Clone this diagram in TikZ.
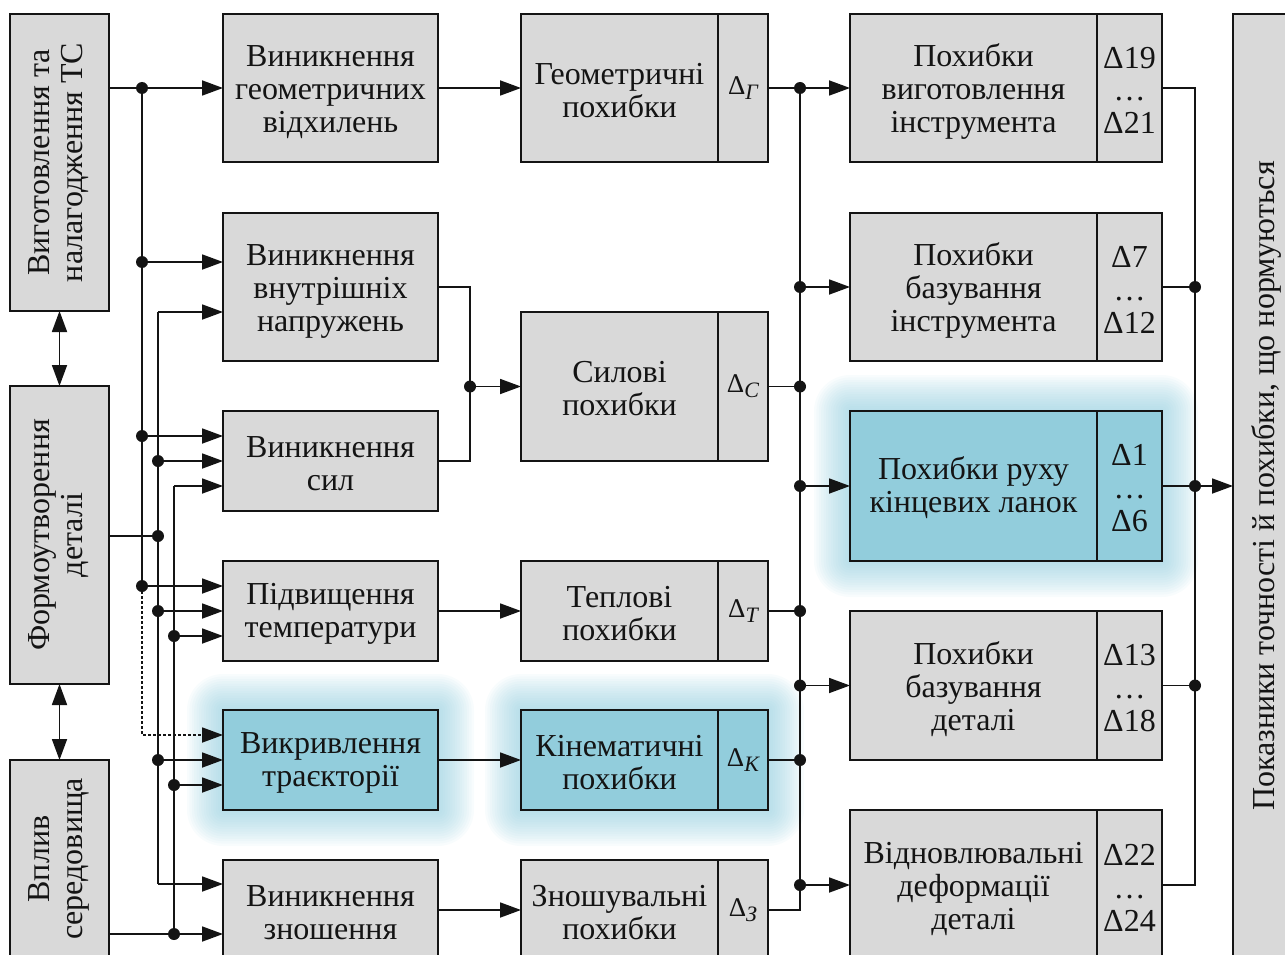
\documentclass[tikz,border=0pt]{standalone}
\usepackage{fontspec}
\usepackage{graphicx}
\setmainfont{Liberation Serif}
\usetikzlibrary{arrows.meta,calc,backgrounds}
\definecolor{boxgray}{RGB}{217,217,217}
\definecolor{boxblue}{RGB}{146,205,220}
\definecolor{glowblue}{RGB}{140,202,220}
\definecolor{ink}{RGB}{20,20,20}
\newcommand\dsub[1]{{\fontsize{27}{27}\selectfont Δ}\raisebox{-5pt}{\fontsize{22}{22}\selectfont\itshape #1}}
\newcommand\rtext[1]{\rotatebox{90}{\begin{tabular}{@{}c@{}}#1\end{tabular}}}
\newcommand\st{\rule{0pt}{30pt}}
\newcommand\sst{\rule{0pt}{26pt}}
\newcommand\glowbox[2]{%
  \foreach \k in {1,...,15}{%
    \pgfmathsetmacro\gr{\k*2.4}%
    \fill[glowblue, opacity=0.06, rounded corners=\gr pt]
      ([shift={(-\gr,-\gr)}]#1) rectangle ([shift={(\gr,\gr)}]#2);
  }}
\tikzset{
  blk/.style={draw=ink, line width=2pt, fill=boxgray, inner sep=0pt, outer sep=0pt,
    anchor=north west, align=center, text=ink, font=\fontsize{32}{33}\selectfont},
  hl/.style={fill=boxblue},
  con/.style={line width=1.8pt, draw=ink},
  arr/.style={con, -{Triangle[length=21pt,width=15pt]}},
  darr/.style={con, {Triangle[length=21pt,width=15pt]}-{Triangle[length=21pt,width=15pt]}},
  dotline/.style={arr, dash pattern=on 2.5pt off 2.5pt},
}
\begin{document}
\begin{tikzpicture}[x=1pt,y=-1pt]
\useasboundingbox (0,0) rectangle (1285,955);
\clip (0,0) rectangle (1285,955);

% left column
\node[blk, minimum width=99, minimum height=297] (l1) at (10,14) {\rtext{Виготовлення та\\налагодження ТС}};
\node[blk, minimum width=99, minimum height=298] (l2) at (10,386) {\rtext{Формоутворення\\деталі}};
\node[blk, minimum width=99, minimum height=198] (l3) at (10,760) {\rtext{Вплив\\середовища}};

% second column
\node[blk, minimum width=215, minimum height=148] (b1) at (223,14) {\st Виникнення\\геометричних\\відхилень};
\node[blk, minimum width=215, minimum height=148] (b2) at (223,213) {\st Виникнення\\внутрішніх\\напружень};
\node[blk, minimum width=215, minimum height=100] (b3) at (223,411) {\sst Виникнення\\сил};
\node[blk, minimum width=215, minimum height=100] (b4) at (223,561) {\sst Підвищення\\температури};
\node[blk, hl, minimum width=215, minimum height=100] (b5) at (223,710) {\sst Викривлення\\траєкторії};
\node[blk, minimum width=215, minimum height=100] (b6) at (223,860) {\sst Виникнення\\зношення};

% third column
\node[blk, minimum width=197, minimum height=148] (c1) at (521,14) {\sst Геометричні\\похибки};
\node[blk, minimum width=50, minimum height=148] (c1d) at (718,14) {\dsub{Γ}};
\node[blk, minimum width=197, minimum height=149] (c2) at (521,312) {\sst Силові\\похибки};
\node[blk, minimum width=50, minimum height=149] (c2d) at (718,312) {\dsub{C}};
\node[blk, minimum width=197, minimum height=100] (c3) at (521,561) {\sst Теплові\\похибки};
\node[blk, minimum width=50, minimum height=100] (c3d) at (718,561) {\dsub{T}};
\node[blk, hl, minimum width=197, minimum height=100] (c4) at (521,710) {\sst Кінематичні\\похибки};
\node[blk, hl, minimum width=50, minimum height=100] (c4d) at (718,710) {\dsub{K}};
\node[blk, minimum width=197, minimum height=100] (c5) at (521,860) {\sst Зношувальні\\похибки};
\node[blk, minimum width=50, minimum height=100] (c5d) at (718,860) {\dsub{З}};

% fourth column
\node[blk, minimum width=247, minimum height=148] (d1) at (850,14) {\st Похибки\\виготовлення\\інструмента};
\node[blk, minimum width=65, minimum height=148] (d1d) at (1097,14) {\sst Δ19\\…\\Δ21};
\node[blk, minimum width=247, minimum height=148] (d2) at (850,213) {\st Похибки\\базування\\інструмента};
\node[blk, minimum width=65, minimum height=148] (d2d) at (1097,213) {\sst Δ7\\…\\Δ12};
\node[blk, hl, minimum width=247, minimum height=150] (d3) at (850,411) {\sst Похибки руху\\кінцевих ланок};
\node[blk, hl, minimum width=65, minimum height=150] (d3d) at (1097,411) {\sst Δ1\\…\\Δ6};
\node[blk, minimum width=247, minimum height=149] (d4) at (850,611) {\st Похибки\\базування\\деталі};
\node[blk, minimum width=65, minimum height=149] (d4d) at (1097,611) {\sst Δ13\\…\\Δ18};
\node[blk, minimum width=247, minimum height=150] (d5) at (850,810) {\st Відновлювальні\\деформації\\деталі};
\node[blk, minimum width=65, minimum height=150] (d5d) at (1097,810) {\sst Δ22\\…\\Δ24};

% right box
\node[blk, minimum width=66, minimum height=944] (r) at (1233,14) {\rotatebox{90}{Показники точності й похибки, що нормуються}};

% glows
\begin{pgfonlayer}{background}
\glowbox{b5.north west}{b5.south east}
\glowbox{c4.north west}{c4d.south east}
\glowbox{d3.north west}{d3d.south east}
\end{pgfonlayer}

% junction coordinates
\coordinate (jA88) at (b1.west -| 142,0);
\coordinate (jA262) at (142,262);
\coordinate (jA436) at (142,436);
\coordinate (jA586) at (142,586);
\coordinate (kA735) at (142,735);
\coordinate (kB312) at (158,312);
\coordinate (jB461) at (b3.west -| 158,0);
\coordinate (jB536) at (158,536);
\coordinate (jB611) at (b4.west -| 158,0);
\coordinate (jB760) at (b5.west -| 158,0);
\coordinate (kB884) at (158,884);
\coordinate (kC486) at (174,486);
\coordinate (jC636) at (174,636);
\coordinate (jC785) at (174,785);
\coordinate (jC934) at (174,934);
\coordinate (jM) at (c2.west -| 470,0);
\coordinate (jR88) at (c1d.east -| 800,0);
\coordinate (jR287) at (d2.west -| 800,0);
\coordinate (jR386) at (c2d.east -| 800,0);
\coordinate (jR486) at (d3.west -| 800,0);
\coordinate (jR611) at (c3d.east -| 800,0);
\coordinate (jR685) at (d4.west -| 800,0);
\coordinate (jR760) at (c4d.east -| 800,0);
\coordinate (jR885) at (d5.west -| 800,0);
\coordinate (kR910) at (c5d.east -| 800,0);
\coordinate (kS88) at (d1d.east -| 1195,0);
\coordinate (jS287) at (d2d.east -| 1195,0);
\coordinate (jS486) at (d3d.east -| 1195,0);
\coordinate (jS685) at (d4d.east -| 1195,0);
\coordinate (kS885) at (d5d.east -| 1195,0);

% left double arrows
\draw[darr] (l1.south) -- (l2.north);
\draw[darr] (l2.south) -- (l3.north);

% bus A
\draw[arr] (l1.east |- jA88) -- (b1.west);
\draw[con] (jA88) -- (jA586);
\draw[arr] (jA262) -- (b2.west |- jA262);
\draw[arr] (jA436) -- (b3.west |- jA436);
\draw[arr] (jA586) -- (b4.west |- jA586);
\draw[dotline] (jA586) -- (kA735) -- (b5.west |- kA735);

% bus B
\draw[con] (kB312) -- (kB884);
\draw[arr] (kB312) -- (b2.west |- kB312);
\draw[con] (l2.east |- jB536) -- (jB536);
\draw[arr] (jB461) -- (b3.west);
\draw[arr] (jB611) -- (b4.west);
\draw[arr] (jB760) -- (b5.west);
\draw[arr] (kB884) -- (b6.west |- kB884);

% bus C
\draw[con] (kC486) -- (jC934);
\draw[arr] (kC486) -- (b3.west |- kC486);
\draw[arr] (jC636) -- (b4.west |- jC636);
\draw[arr] (jC785) -- (b5.west |- jC785);
\draw[arr] (l3.east |- jC934) -- (b6.west |- jC934);

% column 2 -> column 3
\draw[arr] (b1.east) -- (c1.west);
\draw[con] (b2.east) -| (jM);
\draw[con] (b3.east) -| (jM);
\draw[arr] (jM) -- (c2.west);
\draw[arr] (b4.east) -- (c3.west);
\draw[arr] (b5.east) -- (c4.west);
\draw[arr] (b6.east) -- (c5.west);

% bus R
\draw[arr] (c1d.east) -- (d1.west);
\draw[con] (jR88) -- (kR910) -- (c5d.east);
\draw[arr] (jR287) -- (d2.west);
\draw[con] (c2d.east) -- (jR386);
\draw[arr] (jR486) -- (d3.west);
\draw[con] (c3d.east) -- (jR611);
\draw[arr] (jR685) -- (d4.west);
\draw[con] (c4d.east) -- (jR760);
\draw[arr] (jR885) -- (d5.west);

% bus S
\draw[con] (d1d.east) -- (kS88) -- (kS885) -- (d5d.east);
\draw[con] (d2d.east) -- (jS287);
\draw[arr] (d3d.east) -- (r.west |- jS486);
\draw[con] (d4d.east) -- (jS685);

% dots
\foreach \p in {jA88,jA262,jA436,jA586,jB461,jB536,jB611,jB760,jC636,jC785,jC934,jM,
  jR88,jR287,jR386,jR486,jR611,jR685,jR760,jR885,jS287,jS486,jS685}
  \fill[ink] (\p) circle[radius=6pt];
\end{tikzpicture}
\end{document}
